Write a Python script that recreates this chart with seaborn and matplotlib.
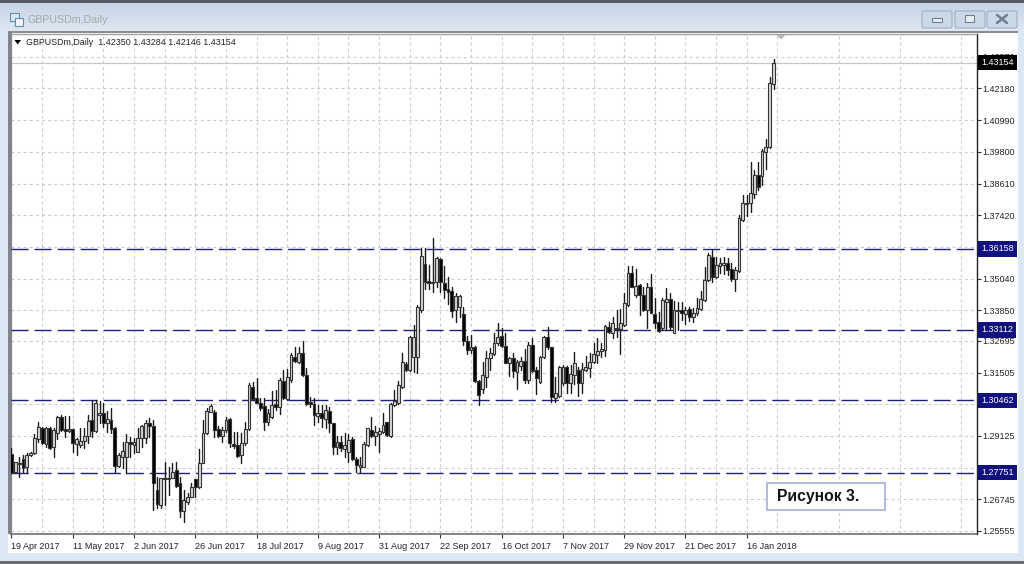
import numpy as np
import pandas as pd
import matplotlib
matplotlib.use('agg')
import matplotlib.pyplot as plt
from matplotlib.patches import Rectangle, FancyBboxPatch, Polygon
from matplotlib.transforms import blended_transform_factory
import seaborn as sns

# daily GBPUSDm candles
opens = [
 1.2845,1.2778,1.2812,1.2826,1.2797,1.2841,1.2850,1.2901,1.2941,1.2882,
 1.2944,1.2870,1.2922,1.2983,1.2938,1.2930,1.2938,1.2882,1.2879,1.2892,
 1.2912,1.2973,1.2932,1.2991,1.2998,1.2963,1.2973,1.2944,1.2800,1.2835,
 1.2832,1.2891,1.2880,1.2853,1.2904,1.2904,1.2960,1.2950,1.2710,1.2653,
 1.2754,1.2750,1.2754,1.2785,1.2736,1.2631,1.2665,1.2683,1.2751,1.2721,
 1.2811,1.2924,1.3003,1.3003,1.2939,1.2912,1.2935,1.2976,1.2882,1.2879,
 1.2841,1.2886,1.2939,1.3096,1.3055,1.3036,1.3025,1.2965,1.2984,1.3033,
 1.3021,1.3119,1.3051,1.3123,1.3209,1.3190,1.3224,1.3141,1.3040,1.3033,
 1.2988,1.2999,1.2976,1.3006,1.2961,1.2871,1.2890,1.2864,1.2852,1.2901,
 1.2826,1.2796,1.2796,1.2879,1.2935,1.2912,1.2920,1.2927,1.2965,1.2912,
 1.3029,1.3036,1.3096,1.3183,1.3160,1.3209,1.3209,1.3386,1.3559,1.3495,
 1.3487,1.3491,1.3577,1.3487,1.3465,1.3457,1.3386,1.3397,1.3371,1.3269,
 1.3236,1.3247,1.3119,1.3089,1.3134,1.3205,1.3220,1.3262,1.3288,1.3250,
 1.3187,1.3205,1.3153,1.3175,1.3194,1.3123,1.3254,1.3160,1.3115,1.3209,
 1.3284,1.3247,1.3055,1.3063,1.3111,1.3172,1.3111,1.3141,1.3160,1.3111,
 1.3160,1.3168,1.3190,1.3217,1.3232,1.3236,1.3322,1.3299,1.3318,1.3314,
 1.3329,1.3405,1.3525,1.3442,1.3480,1.3442,1.3386,1.3472,1.3371,1.3341,
 1.3318,1.3416,1.3427,1.3299,1.3382,1.3386,1.3371,1.3390,1.3360,1.3375,
 1.3390,1.3423,1.3499,1.3585,1.3510,1.3551,1.3555,1.3562,1.3540,1.3502,
 1.3532,1.3724,1.3784,1.3787,1.3821,1.3893,1.3889,1.3979,1.3998,1.42350]
highs = [
 1.2866,1.2816,1.2835,1.2841,1.2847,1.2853,1.2919,1.2966,1.2945,1.2945,
 1.2947,1.2941,1.2988,1.2991,1.2988,1.2988,1.2938,1.2904,1.2941,1.2941,
 1.2991,1.3048,1.3048,1.3045,1.3035,1.3008,1.3016,1.2945,1.2847,1.2891,
 1.2920,1.2910,1.2904,1.2941,1.2954,1.2973,1.2979,1.2973,1.2758,1.2754,
 1.2815,1.2796,1.2811,1.2815,1.2758,1.2710,1.2698,1.2736,1.2751,1.2864,
 1.2973,1.3018,1.3033,1.3010,1.2950,1.2946,1.2984,1.2980,1.2927,1.2927,
 1.2924,1.2965,1.3111,1.3115,1.3130,1.3055,1.3055,1.3014,1.3081,1.3085,
 1.3130,1.3160,1.3164,1.3224,1.3247,1.3247,1.3269,1.3168,1.3059,1.3055,
 1.3029,1.3029,1.3029,1.3021,1.2961,1.2912,1.2912,1.2924,1.2920,1.2909,
 1.2833,1.2833,1.2890,1.2942,1.2984,1.2950,1.2942,1.2999,1.2965,1.3036,
 1.3085,1.3119,1.3224,1.3190,1.3288,1.3329,1.3405,1.3619,1.3619,1.3555,
 1.3656,1.3585,1.3581,1.3551,1.3510,1.3472,1.3450,1.3442,1.3397,1.3288,
 1.3292,1.3250,1.3123,1.3190,1.3231,1.3243,1.3299,1.3337,1.3318,1.3299,
 1.3209,1.3224,1.3198,1.3209,1.3239,1.3265,1.3281,1.3172,1.3213,1.3288,
 1.3322,1.3247,1.3134,1.3175,1.3179,1.3175,1.3179,1.3228,1.3172,1.3187,
 1.3213,1.3224,1.3262,1.3281,1.3262,1.3329,1.3341,1.3360,1.3386,1.3390,
 1.3450,1.3551,1.3551,1.3540,1.3483,1.3472,1.3487,1.3521,1.3431,1.3378,
 1.3431,1.3468,1.3450,1.3420,1.3416,1.3416,1.3397,1.3397,1.3393,1.3431,
 1.3457,1.3547,1.3600,1.3611,1.3585,1.3581,1.3585,1.3581,1.3562,1.3547,
 1.3742,1.3817,1.3817,1.3942,1.3912,1.3942,1.3990,1.4028,1.4261,1.43284]
lows = [
 1.2772,1.2775,1.2757,1.2778,1.2772,1.2837,1.2845,1.2889,1.2882,1.2870,
 1.2864,1.2832,1.2902,1.2932,1.2907,1.2927,1.2854,1.2841,1.2872,1.2866,
 1.2885,1.2907,1.2929,1.2960,1.2945,1.2929,1.2925,1.2772,1.2795,1.2791,
 1.2775,1.2835,1.2847,1.2853,1.2872,1.2885,1.2910,1.2634,1.2642,1.2642,
 1.2653,1.2691,1.2754,1.2721,1.2608,1.2589,1.2657,1.2683,1.2683,1.2717,
 1.2811,1.2920,1.3003,1.2909,1.2909,1.2890,1.2927,1.2871,1.2867,1.2833,
 1.2811,1.2879,1.2935,1.3048,1.3036,1.3010,1.2935,1.2954,1.2980,1.3010,
 1.2995,1.3051,1.3048,1.3115,1.3190,1.3187,1.3138,1.3029,1.3021,1.2954,
 1.2965,1.2946,1.2942,1.2927,1.2845,1.2845,1.2856,1.2833,1.2815,1.2822,
 1.2777,1.2777,1.2796,1.2875,1.2909,1.2879,1.2852,1.2924,1.2912,1.2909,
 1.3025,1.3033,1.3093,1.3157,1.3157,1.3153,1.3149,1.3378,1.3465,1.3465,
 1.3453,1.3472,1.3453,1.3431,1.3408,1.3360,1.3341,1.3360,1.3254,1.3221,
 1.3224,1.3115,1.3029,1.3074,1.3096,1.3160,1.3216,1.3254,1.3247,1.3187,
 1.3138,1.3134,1.3089,1.3160,1.3111,1.3111,1.3153,1.3070,1.3111,1.3205,
 1.3239,1.3040,1.3040,1.3059,1.3104,1.3074,1.3074,1.3108,1.3063,1.3074,
 1.3157,1.3134,1.3187,1.3187,1.3209,1.3213,1.3299,1.3280,1.3284,1.3221,
 1.3325,1.3401,1.3472,1.3435,1.3367,1.3382,1.3318,1.3375,1.3318,1.3303,
 1.3311,1.3311,1.3311,1.3299,1.3311,1.3348,1.3333,1.3345,1.3341,1.3367,
 1.3386,1.3420,1.3495,1.3491,1.3506,1.3525,1.3521,1.3517,1.3495,1.3457,
 1.3528,1.3720,1.3739,1.3754,1.3806,1.3837,1.3855,1.3916,1.3994,1.42146]
closes = [
 1.2775,1.2816,1.2807,1.2791,1.2841,1.2850,1.2906,1.2945,1.2885,1.2941,
 1.2866,1.2935,1.2983,1.2935,1.2932,1.2938,1.2887,1.2900,1.2895,1.2912,
 1.2970,1.2932,1.3038,1.3000,1.2963,1.2975,1.2938,1.2800,1.2841,1.2856,
 1.2891,1.2882,1.2891,1.2906,1.2950,1.2960,1.2950,1.2737,1.2657,1.2754,
 1.2750,1.2754,1.2777,1.2725,1.2631,1.2672,1.2683,1.2721,1.2721,1.2811,
 1.2924,1.3006,1.3025,1.2935,1.2912,1.2935,1.2973,1.2886,1.2875,1.2837,
 1.2886,1.2939,1.3104,1.3051,1.3036,1.3018,1.2965,1.2999,1.3029,1.3021,
 1.3123,1.3055,1.3134,1.3217,1.3194,1.3224,1.3141,1.3033,1.3033,1.2991,
 1.2999,1.2980,1.3010,1.2961,1.2871,1.2890,1.2867,1.2879,1.2897,1.2826,
 1.2803,1.2803,1.2882,1.2942,1.2912,1.2927,1.2931,1.2954,1.2916,1.3033,
 1.3044,1.3104,1.3190,1.3160,1.3284,1.3284,1.3397,1.3589,1.3491,1.3487,
 1.3491,1.3581,1.3491,1.3461,1.3453,1.3382,1.3438,1.3438,1.3269,1.3236,
 1.3247,1.3119,1.3066,1.3141,1.3205,1.3224,1.3262,1.3284,1.3250,1.3187,
 1.3205,1.3157,1.3190,1.3194,1.3123,1.3254,1.3157,1.3130,1.3209,1.3284,
 1.3247,1.3059,1.3074,1.3172,1.3172,1.3111,1.3145,1.3186,1.3111,1.3164,
 1.3172,1.3190,1.3220,1.3232,1.3239,1.3325,1.3303,1.3337,1.3314,1.3337,
 1.3412,1.3525,1.3472,1.3476,1.3442,1.3386,1.3472,1.3375,1.3337,1.3307,
 1.3423,1.3427,1.3322,1.3386,1.3386,1.3375,1.3386,1.3360,1.3375,1.3393,
 1.3427,1.3499,1.3592,1.3510,1.3555,1.3562,1.3562,1.3536,1.3502,1.3536,
 1.3731,1.3787,1.3787,1.3825,1.3893,1.3848,1.3983,1.3998,1.4239,1.43154]

date_labels = ['19 Apr 2017', '11 May 2017', '2 Jun 2017', '26 Jun 2017', '18 Jul 2017',
               '9 Aug 2017', '31 Aug 2017', '22 Sep 2017', '16 Oct 2017', '7 Nov 2017',
               '29 Nov 2017', '21 Dec 2017', '16 Jan 2018']
price_ticks = [1.25555, 1.26745, 1.27935, 1.29125, 1.30315, 1.31505, 1.32695, 1.33850,
               1.35040, 1.36230, 1.37420, 1.38610, 1.39800, 1.40990, 1.42180, 1.43370]
levels = [1.36158, 1.33112, 1.30462, 1.27751]
last_price = 1.43154
header = 'GBPUSDm,Daily  1.42350 1.43284 1.42146 1.43154'

sns.set_theme(style='white')
plt.rcParams['font.family'] = ['Liberation Sans', 'DejaVu Sans']
plt.rcParams['lines.scale_dashes'] = False

df = pd.DataFrame({'open': opens, 'high': highs, 'low': lows, 'close': closes})
df['bar'] = df.index
df['up'] = df.close >= df.open
wicks = df.melt(id_vars='bar', value_vars=['high', 'low'], value_name='price')

W, H = 1024, 564
fig = plt.figure(figsize=(W / 100, H / 100), dpi=100)

# window frame, in pixels
bg = fig.add_axes([0, 0, 1, 1], zorder=0)
bg.axis('off')
bg.imshow(np.linspace(0, 1, 32)[:, None], extent=(0, W, 32, 0), aspect='auto',
          cmap=matplotlib.colors.LinearSegmentedColormap.from_list('bar', ['#c4d2e3', '#dfe8f3']))
bg.set_xlim(0, W)
bg.set_ylim(H, 0)
bg.add_patch(Rectangle((0, 32), W, H - 32, color='#dce8f5', lw=0))
bg.add_patch(Rectangle((0, 0), W, 2.5, color='#555a5e', lw=0))
bg.add_patch(Rectangle((0, 561), W, 3, color='#6a6e72', lw=0))
bg.add_patch(Rectangle((8, 32), 1010, 521, color='white', lw=0))
bg.add_patch(Rectangle((8, 31), 1010, 2, color='#8a8e92', lw=0))
bg.add_patch(Rectangle((8, 32), 2.5, 502, color='#808488', lw=0))
bg.text(28, 20, 'GBPUSDm,Daily', color='#a3a8ad', fontsize=7.7, va='center', ha='left')
bg.add_patch(Rectangle((10, 13), 9, 8, fc='#dbe8f3', ec='#5f8fb0', lw=0.8))
bg.add_patch(Rectangle((15, 18), 8, 8, fc='#f2f6fa', ec='#5f8fb0', lw=0.8))
for x0, x1 in [(922, 952), (955, 985), (987, 1017)]:
    bg.add_patch(FancyBboxPatch((x0, 11), x1 - x0, 17, boxstyle='round,pad=0,rounding_size=2',
                                fc='#cbd8e6', ec='#9fb0c2', lw=0.8))
bg.add_patch(Rectangle((932, 18), 10, 4, fc='#e8eef5', ec='#6f7f90', lw=0.8))
bg.add_patch(Rectangle((965, 15), 9, 7, fc='#e8eef5', ec='#6f7f90', lw=0.8))
bg.plot([997, 1007], [15, 23], color='#6f7f90', lw=1.8)
bg.plot([997, 1007], [23, 15], color='#6f7f90', lw=1.8)

# plot area
ax = fig.add_axes([11 / W, 1 - 533.5 / H, 965.5 / W, 499.5 / H], zorder=1)
ax.set_facecolor('white')

sns.lineplot(data=wicks, x='bar', y='price', units='bar', estimator=None, ax=ax,
             color='#1a1a1a', lw=1.0, legend=False, zorder=4)
for flag, fill in [(True, '#d8d8d8'), (False, 'black')]:
    part = df[df.up == flag]
    ax.bar(part.bar, (part.close - part.open).abs(), bottom=part[['open', 'close']].min(axis=1),
           width=0.74, color=fill, edgecolor='#333333', lw=0.8, zorder=5)

ax.set_xlim(-0.13, 252)
ax.set_ylim(1.25461, 1.44227)

major = np.arange(len(date_labels)) * 16
ax.set_xticks(major)
ax.set_xticklabels(date_labels, ha='left', fontsize=6.5, color='#222222')
ax.set_xticks(np.arange(8, 252, 16), minor=True)
ax.yaxis.tick_right()
ax.set_yticks(price_ticks)
ax.set_yticklabels(['%.5f' % p for p in price_ticks], fontsize=6.5, color='#222222')
ax.tick_params(axis='x', which='major', length=3, width=0.8, color='#333333', pad=3, bottom=True)
ax.tick_params(axis='x', which='minor', length=0)
ax.tick_params(axis='y', length=3, width=0.8, color='#333333', pad=1.5, right=True)
ax.set_xlabel('')
ax.set_ylabel('')
ax.set_axisbelow(True)
ax.grid(True, which='both', color='#cdcdcd', lw=0.8, ls=(0, (2.2, 2.2)), zorder=1)

for side, col, lw in [('left', '#808488', 1.6), ('top', '#a0a0a0', 1), ('right', '#222222', 1), ('bottom', '#707070', 1.2)]:
    ax.spines[side].set_visible(True)
    ax.spines[side].set_color(col)
    ax.spines[side].set_linewidth(lw)

ax.axhline(last_price, color='#c6c6c6', lw=0.9, zorder=2)
trans = blended_transform_factory(ax.transAxes, ax.transData)
for lv in levels:
    ax.axhline(lv, color='#1f1f7d', lw=1.0, ls=(0, (12.3, 4.3)), zorder=3)
    ax.text(1.0045, lv, '%.5f' % lv, transform=trans, color='white', fontsize=6.5, va='center', ha='left',
            bbox=dict(boxstyle='square,pad=0.36', fc='#10107f', ec='none'), zorder=6, clip_on=False)
ax.text(1.0045, last_price, '%.5f' % last_price, transform=trans, color='white', fontsize=6.5, va='center', ha='left',
        bbox=dict(boxstyle='square,pad=0.36', fc='black', ec='none'), zorder=6, clip_on=False)

# overlays on top of the plot
top = fig.add_axes([0, 0, 1, 1], zorder=2)
top.set_xlim(0, W)
top.set_ylim(H, 0)
top.axis('off')
top.patch.set_alpha(0)
top.add_patch(Polygon([[14.5, 40], [21, 40], [17.7, 44.5]], color='black', lw=0))
top.add_patch(Polygon([[776.5, 35], [785.5, 35], [781, 39.5]], color='#b8b8b8', lw=0))
top.text(26, 42.5, header, fontsize=6.4, color='#222222', va='center', ha='left')
top.add_patch(Rectangle((767, 483), 118, 27, fc='white', ec='#a9b5dc', lw=1.3))
top.text(777, 496.5, 'Рисунок 3.', fontsize=11.3, fontweight='bold', color='#151515', va='center', ha='left')

fig.savefig('out.png', dpi=100)
